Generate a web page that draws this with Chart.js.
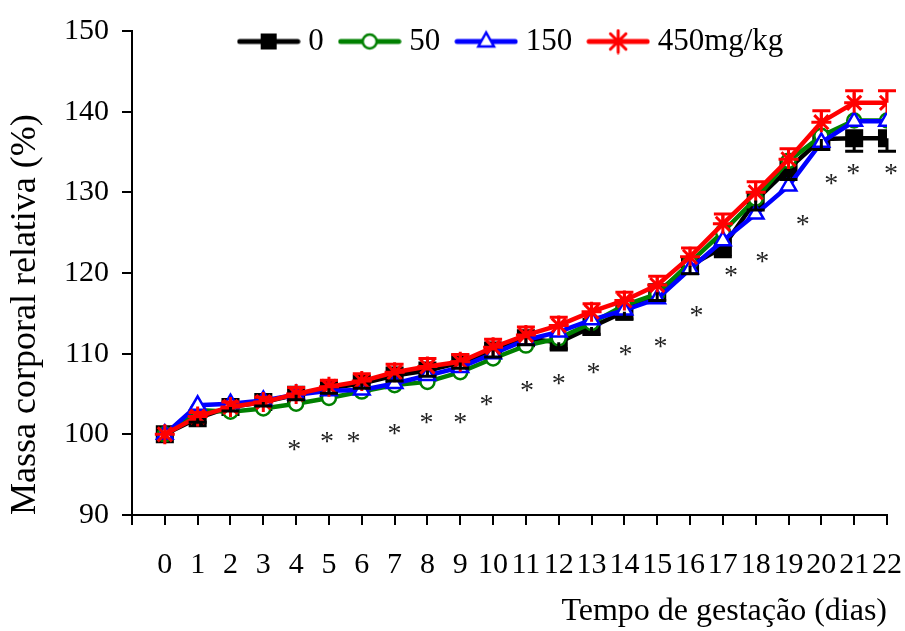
<!DOCTYPE html>
<html>
<head>
<meta charset="utf-8">
<script src="https://cdn.jsdelivr.net/npm/chart.js@4"></script>
<style>
  html, body { margin: 0; padding: 0; background: #fff; }
  #wrap { width: 905px; height: 631px; }
</style>
</head>
<body>
<div id="wrap"><canvas id="chart"></canvas></div>
<script>
// gestation day
const days = [0,1,2,3,4,5,6,7,8,9,10,11,12,13,14,15,16,17,18,19,20,21,22];

// relative body mass (%), one array per dose
const dose0   = [100,102.0,103.4,104.0,104.9,105.7,106.3,107.3,107.9,108.9,110.4,111.9,111.4,113.3,115.2,117.6,120.9,123.2,129.0,132.9,136.6,136.7,136.7];
const dose50  = [100,103.0,102.8,103.2,103.8,104.5,105.3,106.1,106.5,107.7,109.4,111.0,111.9,113.8,116.0,117.4,121.3,125.1,129.2,133.9,137.0,138.9,138.9];
const dose150 = [100,103.6,103.8,104.2,104.9,105.4,105.5,106.3,107.3,108.3,110.0,111.7,112.7,114.2,115.4,116.8,120.5,124.0,127.3,130.8,136.2,138.8,138.8];
const dose450 = [100,102.2,103.4,104.0,105.0,105.9,106.6,107.7,108.4,109.0,110.8,112.3,113.5,115.2,116.6,118.5,122.0,126.1,130.0,134.1,138.7,141.1,141.1];

// error bars (up for 450, down for 0)
const err450 = [0,0.5,0.6,0.6,0.8,0.8,0.9,1.0,1.0,0.9,1.0,1.0,1.0,1.0,1.0,1.1,1.1,1.2,1.3,1.3,1.4,1.5,1.5];
const err0   = [0,0.5,0.5,0.5,0.6,0.6,0.6,0.7,0.7,0.7,0.8,0.8,0.8,0.9,0.9,1.0,1.0,1.2,1.2,1.3,1.3,1.6,1.6];

// significance marks
const starX = [3.94,4.94,5.75,7.0,7.97,9.0,9.8,11.03,12.0,13.06,14.03,15.1,16.2,17.25,18.2,19.43,20.3,20.97,22.12];
const starY = [98.7,99.65,99.65,100.7,102.0,102.0,104.2,106.0,106.8,108.2,110.4,111.5,115.3,120.2,122.0,126.6,131.6,132.9,132.9];

const yTicks = [90,100,110,120,130,140,150];
const seriesNames = ['0', '50', '150', '450mg/kg'];
const FONT = '"Liberation Serif", "Times New Roman", serif';

function pts(vals) {
    return days.map((d, i) => ({x: d, y: vals[i]}));
}

// legend icons: line with marker in the middle
function icon(color, kind) {
    const c = document.createElement('canvas');
    c.width = 64; c.height = 26;
    const g = c.getContext('2d');
    const cx = 32, cy = 13;
    g.strokeStyle = color;
    g.lineWidth = 5;
    g.lineCap = 'round';
    g.beginPath(); g.moveTo(3, cy); g.lineTo(61, cy); g.stroke();
    g.lineWidth = 2.5;
    if (kind == 'rect') {
        g.fillStyle = color;
        g.fillRect(cx - 8, cy - 8, 16, 16);
    } else if (kind == 'circle') {
        g.fillStyle = '#fff';
        g.beginPath(); g.arc(cx, cy, 7, 0, Math.PI * 2); g.fill(); g.stroke();
    } else if (kind == 'triangle') {
        g.fillStyle = '#fff';
        g.beginPath();
        g.moveTo(cx, cy - 9); g.lineTo(cx + 7.8, cy + 5); g.lineTo(cx - 7.8, cy + 5);
        g.closePath(); g.fill(); g.stroke();
    } else {
        g.lineWidth = 3;
        g.beginPath();
        for (let k = 0; k < 4; k++) {
            const a = k * Math.PI / 4;
            g.moveTo(cx - 11 * Math.sin(a), cy - 11 * Math.cos(a));
            g.lineTo(cx + 11 * Math.sin(a), cy + 11 * Math.cos(a));
        }
        g.stroke();
    }
    return c;
}

const legendIcons = [
    icon('#000000', 'rect'),
    icon('#008000', 'circle'),
    icon('#0000ff', 'triangle'),
    icon('#ff0000', 'star')
];

// legend sits inside the plot, like the original
const legendPlace = {
    id: 'legendPlace',
    afterLayout(chart) {
        const lg = chart.legend;
        lg.left = 123; lg.right = 905; lg.width = 782;
        lg.top = 4; lg.bottom = 60; lg.height = 56;
    }
};

// error bars + asterisks
const extras = {
    id: 'extras',
    afterDatasetsDraw(chart) {
        const ctx = chart.ctx;
        const xs = chart.scales.x, ys = chart.scales.y;
        ctx.save();
        ctx.lineWidth = 3;
        const bars = [[dose0, err0, -1, '#000000'], [dose450, err450, 1, '#ff0000']];
        bars.forEach(([vals, errs, dir, color]) => {
            ctx.strokeStyle = color;
            days.forEach((d, i) => {
                if (!errs[i]) return;
                const px = xs.getPixelForValue(d);
                const y0 = ys.getPixelForValue(vals[i]);
                const y1 = ys.getPixelForValue(vals[i] + dir * errs[i]);
                ctx.beginPath();
                ctx.moveTo(px, y0); ctx.lineTo(px, y1);
                ctx.moveTo(px - 9, y1); ctx.lineTo(px + 9, y1);
                ctx.stroke();
            });
        });
        ctx.fillStyle = '#222222';
        ctx.font = '28px ' + FONT;
        ctx.textAlign = 'center';
        ctx.textBaseline = 'alphabetic';
        starX.forEach((d, i) => {
            ctx.fillText('*', xs.getPixelForValue(d), ys.getPixelForValue(starY[i]) + 13);
        });
        ctx.restore();
    }
};

function ds(label, vals, color, style, radius, fill, order) {
    return {
        label: label,
        data: pts(vals),
        borderColor: color,
        backgroundColor: color,
        borderWidth: 4.5,
        pointStyle: style,
        pointRadius: radius,
        pointBorderWidth: style == 'star' ? 3 : 2.5,
        pointBackgroundColor: fill,
        pointBorderColor: color,
        tension: 0,
        order: order
    };
}

new Chart(document.getElementById('chart').getContext('2d'), {
    type: 'line',
    data: {
        datasets: [
            ds(seriesNames[0], dose0, '#000000', 'rect', 11, '#000000', 3),
            ds(seriesNames[1], dose50, '#008000', 'circle', 7, '#ffffff', 2),
            ds(seriesNames[2], dose150, '#0000ff', 'triangle', 9, '#ffffff', 1),
            ds(seriesNames[3], dose450, '#ff0000', 'star', 10, '#ff0000', 0)
        ]
    },
    options: {
        responsive: true,
        maintainAspectRatio: false,
        animation: false,
        layout: {
            padding: {top: 30, right: 18, bottom: 0, left: 0}
        },
        plugins: {
            legend: {
                display: true,
                position: 'top',
                align: 'center',
                maxHeight: 1,
                labels: {
                    usePointStyle: true,
                    pointStyleWidth: 48,
                    padding: 22,
                    color: '#000',
                    font: {family: FONT, size: 31},
                    sort: (a, b) => a.datasetIndex - b.datasetIndex,
                    generateLabels: (chart) => Chart.defaults.plugins.legend.labels.generateLabels(chart)
                        .map((l) => Object.assign(l, {pointStyle: legendIcons[l.datasetIndex]}))
                }
            },
            tooltip: {enabled: false}
        },
        scales: {
            x: {
                type: 'linear',
                min: -1,
                max: 22,
                afterFit: (s) => { s.height = 116; s.paddingLeft = 0; s.paddingRight = 0; },
                afterBuildTicks: (s) => { s.ticks = [-1].concat(days).map((v) => ({value: v})); },
                ticks: {
                    autoSkip: false,
                    maxRotation: 0,
                    padding: 22,
                    color: '#000',
                    font: {family: FONT, size: 30},
                    callback: (v) => (v < 0 ? '' : String(v))
                },
                grid: {
                    drawOnChartArea: false,
                    tickLength: 10,
                    color: '#000',
                    lineWidth: 2
                },
                border: {color: '#000', width: 2},
                title: {
                    display: true,
                    text: 'Tempo de gestação (dias)',
                    align: 'end',
                    color: '#000',
                    font: {family: FONT, size: 32},
                    padding: {top: 0, bottom: 0}
                }
            },
            y: {
                min: 90,
                max: 150,
                afterFit: (s) => { s.width = 132; },
                afterBuildTicks: (s) => { s.ticks = yTicks.map((v) => ({value: v})); },
                ticks: {
                    padding: 13,
                    color: '#000',
                    font: {family: FONT, size: 30}
                },
                grid: {
                    drawOnChartArea: false,
                    tickLength: 10,
                    color: '#000',
                    lineWidth: 2
                },
                border: {color: '#000', width: 2},
                title: {
                    display: true,
                    text: 'Massa corporal relativa (%)',
                    align: 'start',
                    color: '#000',
                    font: {family: FONT, size: 36},
                    padding: {top: 4, bottom: 0}
                }
            }
        }
    },
    plugins: [legendPlace, extras]
});
</script>
</body>
</html>
